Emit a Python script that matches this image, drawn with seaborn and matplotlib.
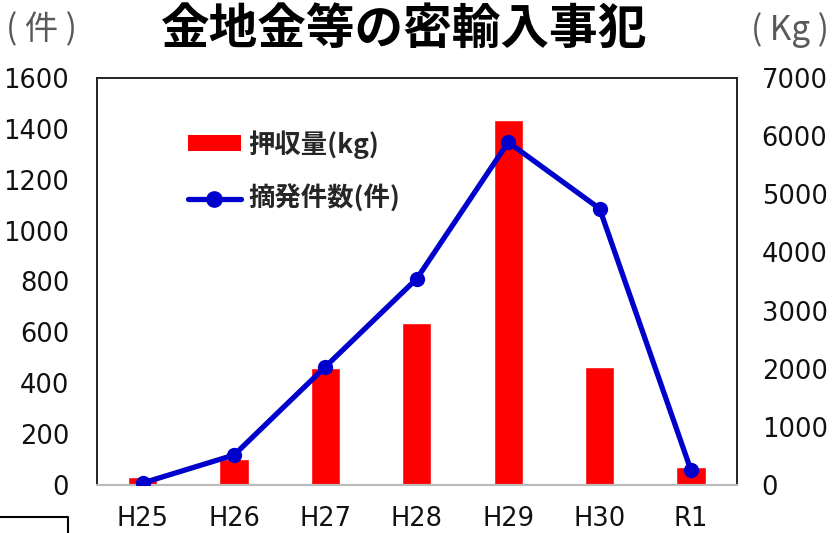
import matplotlib
matplotlib.use("Agg")
import matplotlib.pyplot as plt
import seaborn as sns
import pandas as pd
from matplotlib.lines import Line2D
from matplotlib.patches import Patch

years = ["H25", "H26", "H27", "H28", "H29", "H30", "R1"]
seizure_kg = [135, 445, 2010, 2790, 6277, 2030, 310]
cases = [8, 118, 465, 811, 1347, 1086, 58]
left_ticks = [0, 200, 400, 600, 800, 1000, 1200, 1400, 1600]
right_ticks = [0, 1000, 2000, 3000, 4000, 5000, 6000, 7000]

df = pd.DataFrame({"year": years, "kg": seizure_kg, "cases": cases})

sns.set_theme(style="white")
plt.rcParams["font.family"] = ["DejaVu Sans", "Noto Sans CJK JP"]
JP = ["Noto Sans CJK JP", "DejaVu Sans"]

fig = plt.figure(figsize=(8.4, 5.33), dpi=100)
ax = fig.add_axes([0.1155, 0.090, 0.7615, 0.764])

# bars: seizure (kg) on right-hand scale
sns.barplot(data=df, x="year", y="kg", color="#FF0000", saturation=1,
            width=0.32, ax=ax, zorder=2)
ax.set_ylim(0, 7000)
ax.set_xlim(-0.5, 6.5)
ax.set_xlabel("")
ax.set_ylabel("")

# line: cases on left-hand scale
ax2 = ax.twinx()
sns.lineplot(x=list(range(len(years))), y=cases, ax=ax2, color="#0000CC",
             linewidth=3.8, marker="o", markersize=11, markeredgewidth=0,
             zorder=3)
ax2.set_ylim(0, 1600)
ax2.set_ylabel("")

ax.set_yticks(right_ticks)
ax.yaxis.tick_right()
ax.yaxis.set_label_position("right")
ax2.set_yticks(left_ticks)
ax2.yaxis.tick_left()
ax2.yaxis.set_label_position("left")

for a in (ax, ax2):
    a.tick_params(axis="both", length=0, labelsize=18.5, colors="#111111")
    for s in ("left", "right", "top"):
        a.spines[s].set_color("#222222")
        a.spines[s].set_linewidth(1.2)
    a.spines["bottom"].set_color("#BBBBBB")
    a.spines["bottom"].set_linewidth(1.5)
ax.tick_params(axis="y", pad=18)
ax2.tick_params(axis="y", pad=20)
ax.tick_params(axis="x", pad=15)
ax.set_xticks(range(len(years)))
ax.set_xticklabels(years, fontsize=18.5)

# legend
handles = [Patch(facecolor="#FF0000", edgecolor="none"),
           Line2D([0], [0], color="#0000CC", lw=3.8, marker="o", markersize=11)]
labels = ["押収量(kg)", "摘発件数(件)"]
leg = ax2.legend(handles, labels, loc="upper left", bbox_to_anchor=(0.105, 0.93),
                 frameon=False, prop={"family": JP, "size": 19, "weight": "bold"},
                 handlelength=2.0, handleheight=0.55, labelspacing=1.0,
                 handletextpad=0.3)

# titles
fig.text(0.481, 0.944, "金地金等の密輸入事犯", ha="center", va="center",
         fontsize=35, fontweight="bold", family=JP, color="black")
fig.text(0.050, 0.944, "( 件 )", ha="center", va="center", fontsize=24,
         family=JP, color="#595959")
fig.text(0.940, 0.944, "( Kg )", ha="center", va="center", fontsize=24,
         family=JP, color="#595959")

# fragment of a box at bottom-left
fig.add_artist(Line2D([0, 0.081, 0.081], [0.030, 0.030, 0.0], color="black",
                      lw=1.5, transform=fig.transFigure))

fig.savefig("out.png", dpi=100)
